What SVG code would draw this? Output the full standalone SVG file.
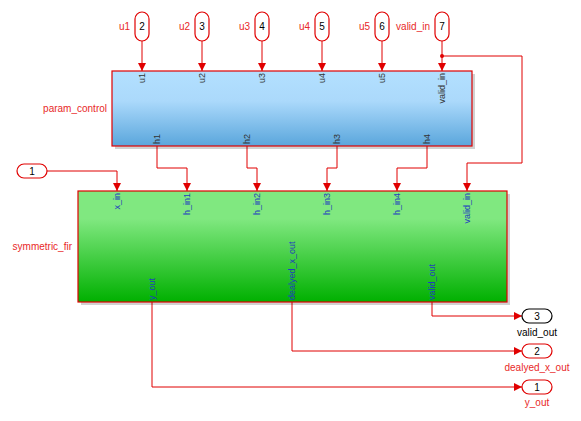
<svg xmlns="http://www.w3.org/2000/svg" width="581" height="421" viewBox="0 0 581 421">
<defs>
<linearGradient id="gBlue" x1="0" y1="0" x2="0" y2="1">
<stop offset="0" stop-color="#b3e0ff"/>
<stop offset="0.4" stop-color="#abd9fb"/>
<stop offset="1" stop-color="#5aa6dc"/>
</linearGradient>
<linearGradient id="gGreen" x1="0" y1="0" x2="0" y2="1">
<stop offset="0" stop-color="#80e880"/>
<stop offset="0.25" stop-color="#80e880"/>
<stop offset="1" stop-color="#00b000"/>
</linearGradient>
<marker id="arr" viewBox="0 0 8 8" refX="8" refY="4" markerWidth="8" markerHeight="8" markerUnits="userSpaceOnUse" orient="auto">
<path d="M0,0 L8,4 L0,8 z" fill="#e00000"/>
</marker>
</defs>
<style>
.ln{fill:none;stroke:#e00000;stroke-width:1}
.pill{fill:#fff;stroke:#e00000;stroke-width:1.2}
.pillk{fill:#fff;stroke:#000;stroke-width:1.2}
.num{font-family:"Liberation Sans",Arial,sans-serif;font-size:10px;text-anchor:middle;fill:#000}
.lbl{font-family:"Liberation Sans",Arial,sans-serif;font-size:10px;fill:#e82828}
.lblk{font-family:"Liberation Sans",Arial,sans-serif;font-size:10px;fill:#000}
.pb{font-family:"Liberation Sans",Arial,sans-serif;font-size:9px;fill:#333}
.pg{font-family:"Liberation Sans",Arial,sans-serif;font-size:9px;fill:#1f3fbf}
.blk{stroke:#e00000;stroke-width:1.2}
.shadow{fill:#000;opacity:0.18}
</style>

<g id="connectors">
<path class="ln" d="M142,41 V71" marker-end="url(#arr)"/>
<path class="ln" d="M202,41 V71" marker-end="url(#arr)"/>
<path class="ln" d="M262,41 V71" marker-end="url(#arr)"/>
<path class="ln" d="M322,41 V71" marker-end="url(#arr)"/>
<path class="ln" d="M382,41 V71" marker-end="url(#arr)"/>
<path class="ln" d="M442,41 V71" marker-end="url(#arr)"/>
<path class="ln" d="M442,56 H522 V163 H467 V191" marker-end="url(#arr)"/>
<circle cx="442" cy="56" r="2" fill="#e00000"/>
<path class="ln" d="M157,146 V168 H187 V191" marker-end="url(#arr)"/>
<path class="ln" d="M247,146 V168 H257 V191" marker-end="url(#arr)"/>
<path class="ln" d="M337,146 V168 H327 V191" marker-end="url(#arr)"/>
<path class="ln" d="M427,146 V168 H397 V191" marker-end="url(#arr)"/>
<path class="ln" d="M47,171 H117 V191" marker-end="url(#arr)"/>
<path class="ln" d="M152,302 V387 H522" marker-end="url(#arr)"/>
<path class="ln" d="M292,302 V351 H522" marker-end="url(#arr)"/>
<path class="ln" d="M432,302 V316 H522" marker-end="url(#arr)"/>
</g>

<g id="in_u1"><rect class="pill" x="135" y="12" width="14" height="29" rx="7"/><text class="num" x="142" y="30">2</text><text class="lbl" x="130" y="30" text-anchor="end">u1</text></g>
<g id="in_u2"><rect class="pill" x="195" y="12" width="14" height="29" rx="7"/><text class="num" x="202" y="30">3</text><text class="lbl" x="190" y="30" text-anchor="end">u2</text></g>
<g id="in_u3"><rect class="pill" x="255" y="12" width="14" height="29" rx="7"/><text class="num" x="262" y="30">4</text><text class="lbl" x="250" y="30" text-anchor="end">u3</text></g>
<g id="in_u4"><rect class="pill" x="315" y="12" width="14" height="29" rx="7"/><text class="num" x="322" y="30">5</text><text class="lbl" x="310" y="30" text-anchor="end">u4</text></g>
<g id="in_u5"><rect class="pill" x="375" y="12" width="14" height="29" rx="7"/><text class="num" x="382" y="30">6</text><text class="lbl" x="370" y="30" text-anchor="end">u5</text></g>
<g id="in_valid"><rect class="pill" x="435" y="12" width="14" height="29" rx="7"/><text class="num" x="442" y="30">7</text><text class="lbl" x="430" y="30" text-anchor="end">valid_in</text></g>
<g id="in_x"><rect class="pill" x="17" y="164" width="30" height="14" rx="7"/><text class="num" x="32" y="175">1</text></g>

<g id="param_control">
<rect class="shadow" x="115" y="74" width="360" height="75"/>
<rect class="blk" x="112" y="71" width="360" height="75" fill="url(#gBlue)"/>
<text class="lbl" x="107" y="112" text-anchor="end">param_control</text>
<g class="pb" text-anchor="end">
<text transform="translate(145,73) rotate(-90)">u1</text>
<text transform="translate(205,73) rotate(-90)">u2</text>
<text transform="translate(265,73) rotate(-90)">u3</text>
<text transform="translate(325,73) rotate(-90)">u4</text>
<text transform="translate(385,73) rotate(-90)">u5</text>
<text transform="translate(445,73) rotate(-90)">valid_in</text>
</g>
<g class="pb" text-anchor="start">
<text transform="translate(160,144) rotate(-90)">h1</text>
<text transform="translate(250,144) rotate(-90)">h2</text>
<text transform="translate(340,144) rotate(-90)">h3</text>
<text transform="translate(430,144) rotate(-90)">h4</text>
</g>
</g>

<g id="symmetric_fir">
<rect class="shadow" x="81" y="194" width="429" height="111"/>
<rect class="blk" x="78" y="191" width="429" height="111" fill="url(#gGreen)"/>
<text class="lbl" x="72" y="250" text-anchor="end">symmetric_fir</text>
<g class="pg" text-anchor="end">
<text transform="translate(120,193) rotate(-90)">x_in</text>
<text transform="translate(190,193) rotate(-90)">h_in1</text>
<text transform="translate(260,193) rotate(-90)">h_in2</text>
<text transform="translate(330,193) rotate(-90)">h_in3</text>
<text transform="translate(400,193) rotate(-90)">h_in4</text>
<text transform="translate(470,193) rotate(-90)">valid_in</text>
</g>
<g class="pg" text-anchor="start">
<text transform="translate(155,300) rotate(-90)">y_out</text>
<text transform="translate(295,300) rotate(-90)">dealyed_x_out</text>
<text transform="translate(435,300) rotate(-90)">valid_out</text>
</g>
</g>

<g id="out_valid"><rect class="pillk" x="522" y="309" width="30" height="14" rx="7"/><text class="num" x="537" y="320">3</text><text class="lblk" x="537" y="336" text-anchor="middle">valid_out</text></g>
<g id="out_dealyed"><rect class="pill" x="522" y="344" width="30" height="14" rx="7"/><text class="num" x="537" y="355">2</text><text class="lbl" x="537" y="371" text-anchor="middle">dealyed_x_out</text></g>
<g id="out_y"><rect class="pill" x="522" y="380" width="30" height="14" rx="7"/><text class="num" x="537" y="391">1</text><text class="lbl" x="537" y="406" text-anchor="middle">y_out</text></g>
</svg>
